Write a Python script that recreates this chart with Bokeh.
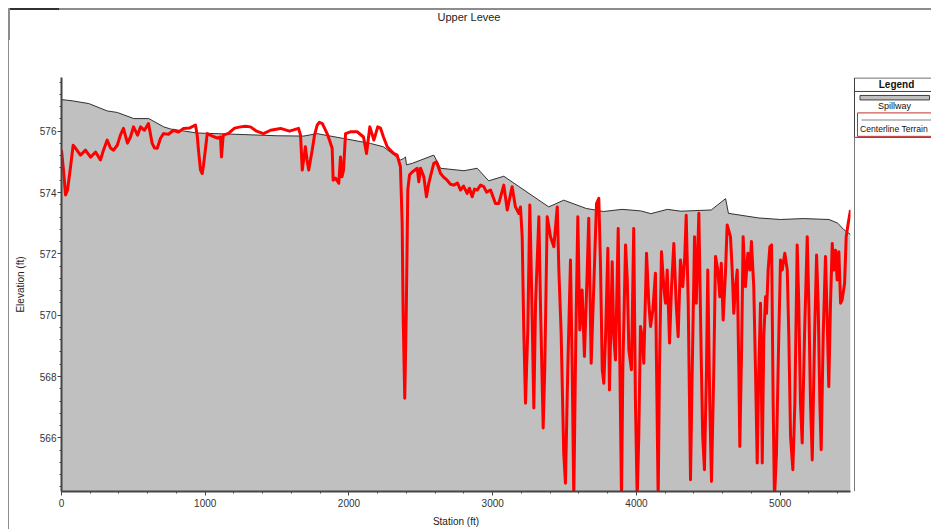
from bokeh.plotting import figure
from bokeh.models import Range1d, SingleIntervalTicker, Div
from bokeh.layouts import row, column
from bokeh.core.properties import value
from bokeh.embed import file_html
from bokeh.resources import INLINE

# ---------------- data ----------------
title_text = "Upper Levee"
x_label = "Station (ft)"
y_label = "Elevation (ft)"
legend_title = "Legend"
series_names = ["Spillway", "Centerline Terrain"]

spill_station = [0, 74, 190, 318, 388, 503, 607, 711, 759, 944, 1200, 1500, 1685, 1778, 1964,
                 2149, 2240, 2358, 2381, 2393, 2400, 2440, 2590, 2637, 2800, 2892, 2972, 3077,
                 3390, 3494, 3650, 3770, 3900, 4030, 4100, 4215, 4310, 4520, 4620, 4640, 4850,
                 5002, 5160, 5340, 5400, 5440, 5489]
spill_elev = [577.03, 576.99, 576.90, 576.66, 576.61, 576.41, 576.41, 576.14, 576.07, 575.94,
              575.90, 575.85, 575.84, 575.92, 575.76, 575.60, 575.49, 575.06, 575.11, 575.16,
              574.90, 574.95, 575.22, 574.79, 574.71, 574.79, 574.38, 574.53, 573.53, 573.75,
              573.48, 573.38, 573.45, 573.40, 573.31, 573.45, 573.39, 573.43, 573.80, 573.32,
              573.17, 573.12, 573.15, 573.12, 573.00, 572.80, 572.63]

terrain_station = [0, 14, 28, 42, 63, 81, 97, 132, 167, 202, 237, 271, 292, 318, 341, 362, 388, 410,
                   431, 459, 480, 501, 529, 550, 577, 605, 631, 647, 666, 689, 710, 744, 779, 814,
                   849, 890, 932, 944, 953, 967, 979, 988, 995, 1014, 1050, 1085, 1106, 1113, 1125,
                   1162, 1204, 1245, 1280, 1315, 1357, 1405, 1454, 1524, 1586, 1649, 1663, 1675,
                   1684, 1697, 1708, 1720, 1732, 1744, 1760, 1779, 1795, 1814, 1830, 1848, 1864,
                   1883, 1890, 1906, 1929, 1941, 1951, 1962, 1976, 2010, 2057, 2101, 2122, 2145,
                   2173, 2200, 2219, 2240, 2266, 2289, 2310, 2335, 2358, 2370, 2377, 2388, 2398,
                   2404, 2409, 2421, 2440, 2475, 2486, 2498, 2521, 2539, 2555, 2574, 2590, 2609,
                   2637, 2658, 2683, 2706, 2729, 2755, 2776, 2797, 2822, 2838, 2857, 2873, 2892,
                   2915, 2938, 2957, 2985, 3019, 3042, 3077, 3101, 3135, 3158, 3181, 3193, 3205,
                   3216, 3228, 3244, 3258, 3268, 3286, 3298, 3321, 3332, 3351, 3362, 3379, 3402,
                   3425, 3449, 3460, 3476, 3494, 3506, 3522, 3541, 3553, 3564, 3578, 3592, 3606,
                   3622, 3638, 3657, 3668, 3685, 3703, 3722, 3738, 3750, 3762, 3773, 3785, 3801,
                   3812, 3831, 3842, 3854, 3873, 3882, 3896, 3905, 3924, 3936, 3947, 3965, 3981,
                   3993, 4005, 4016, 4028, 4040, 4051, 4070, 4086, 4098, 4114, 4132, 4139, 4151,
                   4160, 4174, 4190, 4202, 4214, 4230, 4244, 4260, 4276, 4290, 4306, 4322, 4336,
                   4346, 4360, 4376, 4388, 4404, 4416, 4434, 4452, 4461, 4473, 4487, 4496, 4510,
                   4522, 4538, 4550, 4566, 4580, 4590, 4603, 4619, 4631, 4654, 4666, 4677, 4689,
                   4701, 4712, 4719, 4731, 4742, 4758, 4775, 4789, 4800, 4816, 4828, 4840, 4851,
                   4863, 4875, 4886, 4898, 4905, 4916, 4928, 4940, 4951, 4960, 4974, 4990, 5002,
                   5014, 5032, 5049, 5060, 5072, 5088, 5102, 5118, 5129, 5141, 5153, 5169, 5188,
                   5199, 5211, 5223, 5239, 5253, 5264, 5276, 5285, 5299, 5315, 5327, 5338, 5350,
                   5362, 5373, 5385, 5396, 5408, 5420, 5431, 5448, 5459, 5473, 5489]
terrain_elev = [575.38, 574.73, 573.92, 574.08, 574.84, 575.54, 575.45, 575.22, 575.38, 575.15,
                575.32, 575.06, 575.38, 575.71, 575.45, 575.38, 575.54, 575.87, 576.09, 575.61,
                575.81, 576.14, 575.87, 576.14, 576.03, 576.25, 575.60, 575.45, 575.44, 575.77,
                575.92, 575.90, 576.03, 575.97, 576.09, 576.10, 576.20, 575.87, 575.38, 574.73,
                574.62, 574.89, 575.16, 575.92, 575.84, 575.77, 575.81, 575.16, 575.87, 575.93,
                576.10, 576.14, 576.16, 576.14, 576.00, 575.92, 576.03, 576.09, 576.00, 576.09,
                575.87, 574.73, 575.06, 575.49, 575.06, 574.73, 575.06, 575.38, 575.87, 576.20,
                576.29, 576.25, 576.10, 575.92, 575.71, 575.44, 574.40, 574.47, 574.30, 575.16,
                574.51, 574.73, 575.92, 575.98, 575.98, 575.81, 575.27, 576.14, 575.71, 576.14,
                576.10, 575.81, 575.49, 575.38, 575.28, 575.22, 574.84, 572.99, 569.95, 567.29,
                569.95, 572.12, 574.08, 574.57, 574.67, 574.79, 574.35, 574.79, 574.51, 573.86,
                574.30, 574.66, 574.95, 575.00, 574.62, 574.50, 574.40, 574.27, 574.24, 574.31,
                574.08, 574.21, 573.97, 574.14, 573.86, 574.11, 574.08, 574.24, 574.19, 574.01,
                574.08, 573.64, 573.64, 574.24, 573.43, 574.19, 573.53, 573.32, 573.53, 572.56,
                569.52, 567.13, 569.52, 573.59, 571.47, 566.97, 570.39, 573.21, 570.39, 566.32,
                568.22, 573.21, 572.56, 572.23, 573.53, 571.47, 569.41, 565.50, 564.52, 568.22,
                571.80, 568.22, 564.00, 569.30, 573.21, 569.52, 570.82, 568.65, 571.37, 573.16,
                568.43, 570.93, 573.64, 573.81, 571.58, 568.22, 567.78, 569.30, 572.18, 567.56,
                571.74, 569.30, 568.54, 572.83, 569.30, 564.00, 568.22, 572.29, 571.15, 568.87,
                568.22, 572.83, 567.13, 564.00, 566.04, 569.63, 569.30, 568.43, 572.02, 570.39,
                569.63, 570.17, 571.37, 568.54, 564.00, 568.22, 572.07, 570.93, 570.39, 571.47,
                569.09, 570.93, 572.34, 570.39, 569.30, 571.80, 570.93, 571.91, 573.26, 570.39,
                564.63, 568.22, 572.56, 570.39, 573.32, 568.22, 566.04, 564.96, 568.22, 571.47,
                567.13, 564.58, 568.22, 571.91, 571.47, 570.60, 571.69, 569.84, 571.37, 572.94,
                572.56, 571.47, 570.06, 570.93, 571.47, 568.22, 565.72, 568.76, 572.56, 570.93,
                572.02, 571.47, 572.40, 570.93, 568.22, 565.18, 568.22, 570.39, 565.18, 569.30,
                570.60, 570.06, 571.47, 572.23, 572.29, 567.13, 564.00, 565.50, 569.30, 571.80,
                571.47, 572.02, 571.47, 569.30, 566.04, 564.96, 567.13, 572.29, 570.39, 567.13,
                565.83, 569.30, 572.56, 570.39, 567.13, 565.28, 569.30, 571.96, 570.39, 567.13,
                565.61, 569.30, 571.91, 569.84, 567.67, 570.39, 572.34, 571.47, 572.12, 571.15,
                572.07, 570.39, 570.50, 571.04, 572.56, 572.99, 573.43]

x_min, x_max = 0, 5489
y_min, y_max = 564.25, 577.75
fill_base = 560.0

if len(terrain_station) != len(terrain_elev):
    raise SystemExit(f"terrain length mismatch {len(terrain_station)} {len(terrain_elev)}")

FONT = "Liberation Sans"
TOP_H = 40            # title strip height
H = 529 - TOP_H       # height of plot row
FRAME_TOP, FRAME_BOTTOM = 77, 492   # page y of plot frame edges

# ---------------- title strip (HTML) ----------------
title_html = (
    '<div style="position:relative;width:931px;height:40px;">'
    '<div style="position:absolute;left:8px;top:8px;width:923px;height:2px;background:#8c8c8c;"></div>'
    '<div style="position:absolute;left:8px;top:8px;width:51px;height:2px;background:#303030;"></div>'
    '<div style="position:absolute;left:8px;top:8px;width:2px;height:32px;background:#8c8c8c;"></div>'
    '<div style="position:absolute;left:0;top:11px;width:938px;text-align:center;'
    "font-family:'Liberation Sans',Arial,sans-serif;font-size:11px;line-height:13px;color:#222222;\">"
    + title_text + '</div></div>'
)
title_div = Div(text=title_html, width=931, height=TOP_H,
                styles={"margin": "0", "padding": "0", "overflow": "hidden"})

left_div = Div(text='<div style="position:relative;width:9px;height:%dpx;">'
                    '<div style="position:absolute;left:8px;top:0;width:2px;height:%dpx;'
                    'background:#8c8c8c;"></div></div>' % (H, H),
               width=9, height=H, styles={"margin": "0", "padding": "0", "overflow": "hidden"})

# ---------------- main figure ----------------
p = figure(width=853 - 9, height=H, output_backend="svg", toolbar_location=None,
           x_range=Range1d(x_min, x_max), y_range=Range1d(y_min, y_max),
           min_border_left=61 - 9, min_border_right=3, min_border_top=FRAME_TOP - TOP_H,
           min_border_bottom=529 - FRAME_BOTTOM)
p.outline_line_color = None
p.grid.visible = False
p.background_fill_color = "white"
p.border_fill_color = "white"

p.varea(x=spill_station, y1=[fill_base] * len(spill_station), y2=spill_elev, fill_color="#C0C0C0")
p.line(spill_station, spill_elev, line_color="#303030", line_width=1)
p.line(terrain_station, terrain_elev, line_color="#FF0000", line_width=3, line_join="round")

p.xaxis.ticker = SingleIntervalTicker(interval=1000, num_minor_ticks=5)
p.yaxis.ticker = SingleIntervalTicker(interval=2, num_minor_ticks=5)
p.xaxis.axis_label = x_label
p.yaxis.axis_label = y_label
for ax in (p.xaxis[0], p.yaxis[0]):
    ax.axis_line_color = "#454545"
    ax.axis_line_width = 2
    ax.major_tick_line_color = "#454545"
    ax.minor_tick_line_color = "#454545"
    ax.major_tick_out = 4
    ax.major_tick_in = 0
    ax.minor_tick_out = 2
    ax.minor_tick_in = 0
    ax.major_label_text_font = FONT
    ax.major_label_text_font_size = "10px"
    ax.major_label_text_color = "#333333"
    ax.axis_label_text_font = FONT
    ax.axis_label_text_font_size = "10px"
    ax.axis_label_text_font_style = "normal"
    ax.axis_label_text_color = "#222222"
p.xaxis[0].major_label_standoff = 3
p.yaxis[0].major_label_standoff = 1
p.xaxis[0].axis_label_standoff = 6
p.yaxis[0].axis_label_standoff = 11

# ---------------- legend panel (page-pixel space inside its frame) ----------------
lg = figure(width=78, height=H, output_backend="svg", toolbar_location=None,
            x_range=Range1d(853, 931), y_range=Range1d(FRAME_BOTTOM, FRAME_TOP),
            x_axis_location=None, y_axis_location=None,
            min_border_left=0, min_border_right=0,
            min_border_top=FRAME_TOP - TOP_H, min_border_bottom=529 - FRAME_BOTTOM)
lg.outline_line_color = None
lg.grid.visible = False
lg.background_fill_color = "white"
lg.border_fill_color = "white"

lg.quad(left=[854], right=[945], top=[77.5], bottom=[137], fill_color="white",
        line_color="#404040", line_width=1)
lg.segment(x0=[854], y0=[137], x1=[854], y1=[492], line_color="#7a7a7a", line_width=1)
lg.segment(x0=[854], y0=[91], x1=[945], y1=[91], line_color="#404040", line_width=1)
lg.text(x=[896], y=[84.5], text=[legend_title], text_font=value(FONT), text_font_size="10px",
        text_font_style="bold", text_color="#111111", text_align="center",
        text_baseline="middle")
lg.quad(left=[859.5], right=[929], top=[95], bottom=[99.5], fill_color="#C0C0C0",
        line_color="#404040", line_width=1)
lg.text(x=[894], y=[105.5], text=[series_names[0]], text_font=value(FONT),
        text_font_size="9px", text_color="#111111", text_align="center",
        text_baseline="middle")
lg.quad(left=[857], right=[945], top=[112.5], bottom=[136], fill_color=None,
        line_color="#C03030", line_width=1)
lg.segment(x0=[861], y0=[119.5], x1=[945], y1=[119.5], line_color="#C0C0C0", line_width=2)
lg.text(x=[859.5], y=[128.5], text=[series_names[1]], text_font=value(FONT),
        text_font_size="8.6px", text_color="#111111", text_align="left",
        text_baseline="middle")

layout = column(title_div, row(left_div, p, lg, spacing=0), spacing=0)
open("out.html", "w").write(file_html(layout, INLINE))
